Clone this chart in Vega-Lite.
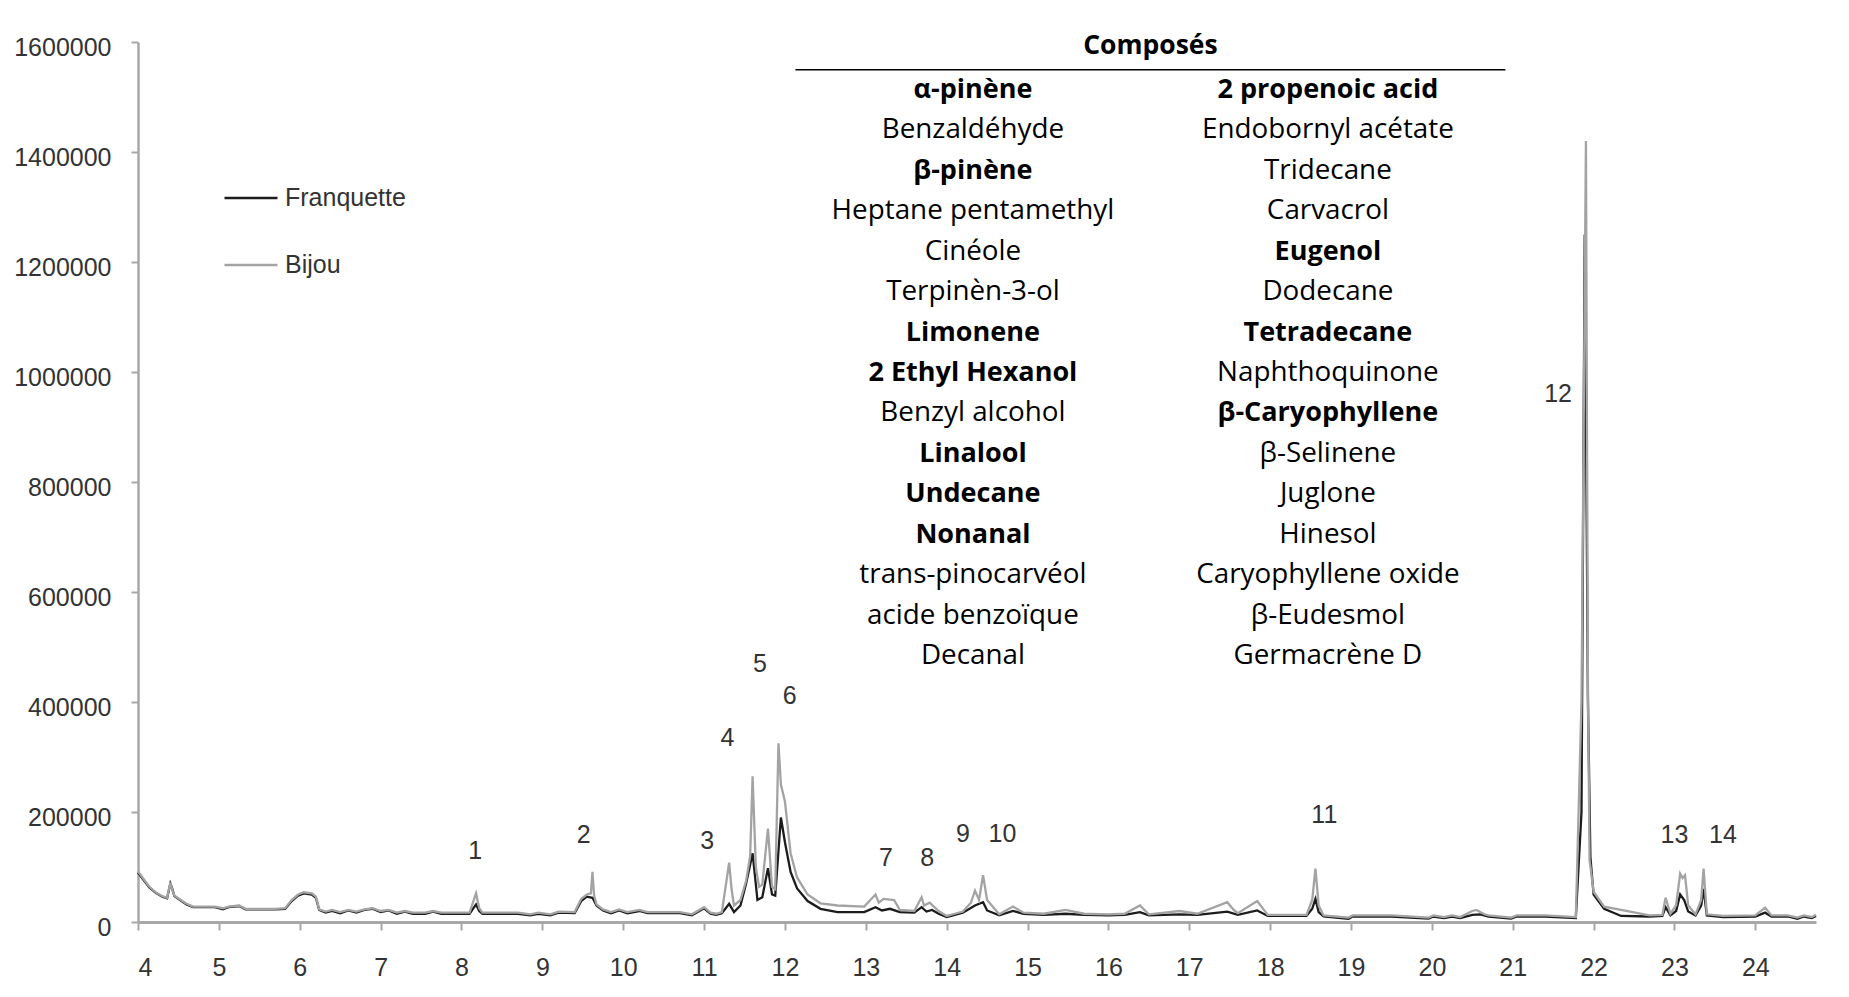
{
  "$schema": "https://vega.github.io/schema/vega-lite/v6.json",
  "autosize": {"type": "none"},
  "width": 1678,
  "height": 880,
  "padding": {"left": 138, "top": 42, "right": 33, "bottom": 75},
  "background": "white",
  "config": {"view": {"stroke": null}},
  "datasets": {
    "chrom": [
      {"t":4.00,"v":90000,"s":"Franquette"},{"t":4.06,"v":78000,"s":"Franquette"},{"t":4.14,"v":63000,"s":"Franquette"},{"t":4.22,"v":53000,"s":"Franquette"},{"t":4.30,"v":46000,"s":"Franquette"},{"t":4.36,"v":43000,"s":"Franquette"},{"t":4.40,"v":70000,"s":"Franquette"},{"t":4.42,"v":62000,"s":"Franquette"},{"t":4.45,"v":47000,"s":"Franquette"},{"t":4.52,"v":40000,"s":"Franquette"},{"t":4.60,"v":32000,"s":"Franquette"},{"t":4.68,"v":27000,"s":"Franquette"},{"t":4.80,"v":27000,"s":"Franquette"},{"t":4.95,"v":27000,"s":"Franquette"},{"t":5.05,"v":23000,"s":"Franquette"},{"t":5.12,"v":27000,"s":"Franquette"},{"t":5.25,"v":29000,"s":"Franquette"},{"t":5.33,"v":23000,"s":"Franquette"},{"t":5.50,"v":23000,"s":"Franquette"},{"t":5.70,"v":23000,"s":"Franquette"},{"t":5.82,"v":24000,"s":"Franquette"},{"t":5.90,"v":38000,"s":"Franquette"},{"t":5.98,"v":48000,"s":"Franquette"},{"t":6.05,"v":52000,"s":"Franquette"},{"t":6.15,"v":50000,"s":"Franquette"},{"t":6.20,"v":44000,"s":"Franquette"},{"t":6.24,"v":22000,"s":"Franquette"},{"t":6.32,"v":17000,"s":"Franquette"},{"t":6.40,"v":20000,"s":"Franquette"},{"t":6.50,"v":16000,"s":"Franquette"},{"t":6.60,"v":21000,"s":"Franquette"},{"t":6.70,"v":17000,"s":"Franquette"},{"t":6.80,"v":22000,"s":"Franquette"},{"t":6.90,"v":24000,"s":"Franquette"},{"t":7.00,"v":18000,"s":"Franquette"},{"t":7.10,"v":21000,"s":"Franquette"},{"t":7.20,"v":15000,"s":"Franquette"},{"t":7.30,"v":19000,"s":"Franquette"},{"t":7.40,"v":15000,"s":"Franquette"},{"t":7.55,"v":15000,"s":"Franquette"},{"t":7.65,"v":19000,"s":"Franquette"},{"t":7.75,"v":15000,"s":"Franquette"},{"t":7.90,"v":15000,"s":"Franquette"},{"t":8.10,"v":15000,"s":"Franquette"},{"t":8.18,"v":32000,"s":"Franquette"},{"t":8.22,"v":20000,"s":"Franquette"},{"t":8.26,"v":15000,"s":"Franquette"},{"t":8.50,"v":15000,"s":"Franquette"},{"t":8.70,"v":15000,"s":"Franquette"},{"t":8.85,"v":12000,"s":"Franquette"},{"t":8.95,"v":15000,"s":"Franquette"},{"t":9.10,"v":12000,"s":"Franquette"},{"t":9.20,"v":17000,"s":"Franquette"},{"t":9.40,"v":16000,"s":"Franquette"},{"t":9.48,"v":38000,"s":"Franquette"},{"t":9.55,"v":46000,"s":"Franquette"},{"t":9.62,"v":44000,"s":"Franquette"},{"t":9.67,"v":30000,"s":"Franquette"},{"t":9.75,"v":21000,"s":"Franquette"},{"t":9.85,"v":16000,"s":"Franquette"},{"t":9.95,"v":21000,"s":"Franquette"},{"t":10.05,"v":16000,"s":"Franquette"},{"t":10.20,"v":20000,"s":"Franquette"},{"t":10.30,"v":16000,"s":"Franquette"},{"t":10.50,"v":16000,"s":"Franquette"},{"t":10.70,"v":16000,"s":"Franquette"},{"t":10.85,"v":12000,"s":"Franquette"},{"t":11.00,"v":25000,"s":"Franquette"},{"t":11.08,"v":15000,"s":"Franquette"},{"t":11.15,"v":13000,"s":"Franquette"},{"t":11.22,"v":16000,"s":"Franquette"},{"t":11.31,"v":33000,"s":"Franquette"},{"t":11.37,"v":18000,"s":"Franquette"},{"t":11.45,"v":30000,"s":"Franquette"},{"t":11.52,"v":70000,"s":"Franquette"},{"t":11.60,"v":125000,"s":"Franquette"},{"t":11.66,"v":40000,"s":"Franquette"},{"t":11.72,"v":45000,"s":"Franquette"},{"t":11.79,"v":98000,"s":"Franquette"},{"t":11.84,"v":50000,"s":"Franquette"},{"t":11.88,"v":48000,"s":"Franquette"},{"t":11.95,"v":190000,"s":"Franquette"},{"t":12.00,"v":145000,"s":"Franquette"},{"t":12.07,"v":91000,"s":"Franquette"},{"t":12.15,"v":61000,"s":"Franquette"},{"t":12.28,"v":38000,"s":"Franquette"},{"t":12.44,"v":24000,"s":"Franquette"},{"t":12.65,"v":18000,"s":"Franquette"},{"t":12.98,"v":18000,"s":"Franquette"},{"t":13.12,"v":27000,"s":"Franquette"},{"t":13.20,"v":21000,"s":"Franquette"},{"t":13.30,"v":24000,"s":"Franquette"},{"t":13.42,"v":18000,"s":"Franquette"},{"t":13.60,"v":17000,"s":"Franquette"},{"t":13.69,"v":27000,"s":"Franquette"},{"t":13.75,"v":19000,"s":"Franquette"},{"t":13.82,"v":22000,"s":"Franquette"},{"t":13.90,"v":15000,"s":"Franquette"},{"t":14.00,"v":9000,"s":"Franquette"},{"t":14.10,"v":13000,"s":"Franquette"},{"t":14.20,"v":17000,"s":"Franquette"},{"t":14.35,"v":30000,"s":"Franquette"},{"t":14.45,"v":36000,"s":"Franquette"},{"t":14.50,"v":21000,"s":"Franquette"},{"t":14.65,"v":12000,"s":"Franquette"},{"t":14.82,"v":20000,"s":"Franquette"},{"t":14.95,"v":15000,"s":"Franquette"},{"t":15.20,"v":13000,"s":"Franquette"},{"t":15.47,"v":15000,"s":"Franquette"},{"t":15.70,"v":13000,"s":"Franquette"},{"t":16.00,"v":12000,"s":"Franquette"},{"t":16.20,"v":13000,"s":"Franquette"},{"t":16.39,"v":18000,"s":"Franquette"},{"t":16.50,"v":12000,"s":"Franquette"},{"t":16.88,"v":14000,"s":"Franquette"},{"t":17.10,"v":13000,"s":"Franquette"},{"t":17.47,"v":19000,"s":"Franquette"},{"t":17.60,"v":13000,"s":"Franquette"},{"t":17.84,"v":21000,"s":"Franquette"},{"t":17.97,"v":11000,"s":"Franquette"},{"t":18.20,"v":11000,"s":"Franquette"},{"t":18.45,"v":11000,"s":"Franquette"},{"t":18.52,"v":24000,"s":"Franquette"},{"t":18.56,"v":42000,"s":"Franquette"},{"t":18.60,"v":18000,"s":"Franquette"},{"t":18.66,"v":10000,"s":"Franquette"},{"t":18.97,"v":6000,"s":"Franquette"},{"t":19.02,"v":10000,"s":"Franquette"},{"t":19.50,"v":10000,"s":"Franquette"},{"t":19.96,"v":6000,"s":"Franquette"},{"t":20.02,"v":10000,"s":"Franquette"},{"t":20.15,"v":7000,"s":"Franquette"},{"t":20.25,"v":10000,"s":"Franquette"},{"t":20.35,"v":7000,"s":"Franquette"},{"t":20.50,"v":13000,"s":"Franquette"},{"t":20.60,"v":14000,"s":"Franquette"},{"t":20.70,"v":10000,"s":"Franquette"},{"t":20.98,"v":6000,"s":"Franquette"},{"t":21.05,"v":10000,"s":"Franquette"},{"t":21.40,"v":10000,"s":"Franquette"},{"t":21.78,"v":7000,"s":"Franquette"},{"t":21.85,"v":200000,"s":"Franquette"},{"t":21.89,"v":1250000,"s":"Franquette"},{"t":21.93,"v":400000,"s":"Franquette"},{"t":21.96,"v":118000,"s":"Franquette"},{"t":22.00,"v":50000,"s":"Franquette"},{"t":22.13,"v":24000,"s":"Franquette"},{"t":22.34,"v":11000,"s":"Franquette"},{"t":22.69,"v":10000,"s":"Franquette"},{"t":22.85,"v":11000,"s":"Franquette"},{"t":22.89,"v":27000,"s":"Franquette"},{"t":22.95,"v":12000,"s":"Franquette"},{"t":23.02,"v":20000,"s":"Franquette"},{"t":23.07,"v":50000,"s":"Franquette"},{"t":23.12,"v":40000,"s":"Franquette"},{"t":23.17,"v":19000,"s":"Franquette"},{"t":23.26,"v":12000,"s":"Franquette"},{"t":23.33,"v":30000,"s":"Franquette"},{"t":23.36,"v":60000,"s":"Franquette"},{"t":23.40,"v":12000,"s":"Franquette"},{"t":23.60,"v":9000,"s":"Franquette"},{"t":24.00,"v":10000,"s":"Franquette"},{"t":24.12,"v":17000,"s":"Franquette"},{"t":24.20,"v":10000,"s":"Franquette"},{"t":24.40,"v":10000,"s":"Franquette"},{"t":24.52,"v":6000,"s":"Franquette"},{"t":24.60,"v":10000,"s":"Franquette"},{"t":24.70,"v":7000,"s":"Franquette"},{"t":24.75,"v":11000,"s":"Franquette"},

      {"t":4.00,"v":92000,"s":"Bijou"},{"t":4.06,"v":80000,"s":"Bijou"},{"t":4.14,"v":64000,"s":"Bijou"},{"t":4.22,"v":54000,"s":"Bijou"},{"t":4.30,"v":47000,"s":"Bijou"},{"t":4.36,"v":44000,"s":"Bijou"},{"t":4.40,"v":72000,"s":"Bijou"},{"t":4.42,"v":60000,"s":"Bijou"},{"t":4.45,"v":48000,"s":"Bijou"},{"t":4.52,"v":41000,"s":"Bijou"},{"t":4.60,"v":33000,"s":"Bijou"},{"t":4.68,"v":28000,"s":"Bijou"},{"t":4.80,"v":28000,"s":"Bijou"},{"t":4.95,"v":28000,"s":"Bijou"},{"t":5.05,"v":25000,"s":"Bijou"},{"t":5.12,"v":28000,"s":"Bijou"},{"t":5.25,"v":30000,"s":"Bijou"},{"t":5.33,"v":24000,"s":"Bijou"},{"t":5.50,"v":24000,"s":"Bijou"},{"t":5.70,"v":24000,"s":"Bijou"},{"t":5.82,"v":25000,"s":"Bijou"},{"t":5.90,"v":40000,"s":"Bijou"},{"t":5.98,"v":50000,"s":"Bijou"},{"t":6.05,"v":54000,"s":"Bijou"},{"t":6.15,"v":52000,"s":"Bijou"},{"t":6.20,"v":46000,"s":"Bijou"},{"t":6.24,"v":23000,"s":"Bijou"},{"t":6.32,"v":19000,"s":"Bijou"},{"t":6.40,"v":22000,"s":"Bijou"},{"t":6.50,"v":18000,"s":"Bijou"},{"t":6.60,"v":22000,"s":"Bijou"},{"t":6.70,"v":19000,"s":"Bijou"},{"t":6.80,"v":23000,"s":"Bijou"},{"t":6.90,"v":25000,"s":"Bijou"},{"t":7.00,"v":20000,"s":"Bijou"},{"t":7.10,"v":22000,"s":"Bijou"},{"t":7.20,"v":17000,"s":"Bijou"},{"t":7.30,"v":20000,"s":"Bijou"},{"t":7.40,"v":17000,"s":"Bijou"},{"t":7.55,"v":17000,"s":"Bijou"},{"t":7.65,"v":20000,"s":"Bijou"},{"t":7.75,"v":17000,"s":"Bijou"},{"t":7.90,"v":17000,"s":"Bijou"},{"t":8.10,"v":17000,"s":"Bijou"},{"t":8.18,"v":52000,"s":"Bijou"},{"t":8.22,"v":25000,"s":"Bijou"},{"t":8.26,"v":17000,"s":"Bijou"},{"t":8.50,"v":17000,"s":"Bijou"},{"t":8.70,"v":17000,"s":"Bijou"},{"t":8.85,"v":14000,"s":"Bijou"},{"t":8.95,"v":17000,"s":"Bijou"},{"t":9.10,"v":14000,"s":"Bijou"},{"t":9.20,"v":19000,"s":"Bijou"},{"t":9.40,"v":18000,"s":"Bijou"},{"t":9.48,"v":42000,"s":"Bijou"},{"t":9.55,"v":50000,"s":"Bijou"},{"t":9.60,"v":52000,"s":"Bijou"},{"t":9.62,"v":91000,"s":"Bijou"},{"t":9.64,"v":48000,"s":"Bijou"},{"t":9.67,"v":32000,"s":"Bijou"},{"t":9.75,"v":23000,"s":"Bijou"},{"t":9.85,"v":18000,"s":"Bijou"},{"t":9.95,"v":23000,"s":"Bijou"},{"t":10.05,"v":18000,"s":"Bijou"},{"t":10.20,"v":22000,"s":"Bijou"},{"t":10.30,"v":18000,"s":"Bijou"},{"t":10.50,"v":18000,"s":"Bijou"},{"t":10.70,"v":18000,"s":"Bijou"},{"t":10.85,"v":14000,"s":"Bijou"},{"t":11.00,"v":27000,"s":"Bijou"},{"t":11.08,"v":17000,"s":"Bijou"},{"t":11.15,"v":15000,"s":"Bijou"},{"t":11.22,"v":18000,"s":"Bijou"},{"t":11.31,"v":108000,"s":"Bijou"},{"t":11.34,"v":60000,"s":"Bijou"},{"t":11.37,"v":30000,"s":"Bijou"},{"t":11.45,"v":40000,"s":"Bijou"},{"t":11.52,"v":75000,"s":"Bijou"},{"t":11.57,"v":120000,"s":"Bijou"},{"t":11.60,"v":265000,"s":"Bijou"},{"t":11.64,"v":100000,"s":"Bijou"},{"t":11.68,"v":64000,"s":"Bijou"},{"t":11.72,"v":68000,"s":"Bijou"},{"t":11.79,"v":170000,"s":"Bijou"},{"t":11.84,"v":64000,"s":"Bijou"},{"t":11.88,"v":60000,"s":"Bijou"},{"t":11.92,"v":325000,"s":"Bijou"},{"t":11.95,"v":250000,"s":"Bijou"},{"t":12.00,"v":219000,"s":"Bijou"},{"t":12.07,"v":125000,"s":"Bijou"},{"t":12.15,"v":81000,"s":"Bijou"},{"t":12.28,"v":50000,"s":"Bijou"},{"t":12.44,"v":34000,"s":"Bijou"},{"t":12.65,"v":30000,"s":"Bijou"},{"t":12.98,"v":28000,"s":"Bijou"},{"t":13.12,"v":50000,"s":"Bijou"},{"t":13.16,"v":35000,"s":"Bijou"},{"t":13.22,"v":42000,"s":"Bijou"},{"t":13.35,"v":40000,"s":"Bijou"},{"t":13.42,"v":22000,"s":"Bijou"},{"t":13.60,"v":20000,"s":"Bijou"},{"t":13.69,"v":45000,"s":"Bijou"},{"t":13.72,"v":30000,"s":"Bijou"},{"t":13.79,"v":35000,"s":"Bijou"},{"t":13.90,"v":20000,"s":"Bijou"},{"t":14.00,"v":11000,"s":"Bijou"},{"t":14.10,"v":15000,"s":"Bijou"},{"t":14.20,"v":19000,"s":"Bijou"},{"t":14.30,"v":35000,"s":"Bijou"},{"t":14.35,"v":57000,"s":"Bijou"},{"t":14.40,"v":40000,"s":"Bijou"},{"t":14.45,"v":85000,"s":"Bijou"},{"t":14.50,"v":40000,"s":"Bijou"},{"t":14.65,"v":14000,"s":"Bijou"},{"t":14.82,"v":28000,"s":"Bijou"},{"t":14.95,"v":17000,"s":"Bijou"},{"t":15.20,"v":15000,"s":"Bijou"},{"t":15.47,"v":22000,"s":"Bijou"},{"t":15.70,"v":15000,"s":"Bijou"},{"t":16.00,"v":14000,"s":"Bijou"},{"t":16.20,"v":15000,"s":"Bijou"},{"t":16.39,"v":30000,"s":"Bijou"},{"t":16.50,"v":14000,"s":"Bijou"},{"t":16.88,"v":20000,"s":"Bijou"},{"t":17.10,"v":15000,"s":"Bijou"},{"t":17.47,"v":36000,"s":"Bijou"},{"t":17.55,"v":22000,"s":"Bijou"},{"t":17.60,"v":16000,"s":"Bijou"},{"t":17.84,"v":38000,"s":"Bijou"},{"t":17.97,"v":13000,"s":"Bijou"},{"t":18.20,"v":13000,"s":"Bijou"},{"t":18.45,"v":13000,"s":"Bijou"},{"t":18.52,"v":40000,"s":"Bijou"},{"t":18.56,"v":97000,"s":"Bijou"},{"t":18.60,"v":30000,"s":"Bijou"},{"t":18.66,"v":12000,"s":"Bijou"},{"t":18.97,"v":8000,"s":"Bijou"},{"t":19.02,"v":12000,"s":"Bijou"},{"t":19.50,"v":12000,"s":"Bijou"},{"t":19.96,"v":8000,"s":"Bijou"},{"t":20.02,"v":12000,"s":"Bijou"},{"t":20.15,"v":9000,"s":"Bijou"},{"t":20.25,"v":12000,"s":"Bijou"},{"t":20.35,"v":9000,"s":"Bijou"},{"t":20.50,"v":20000,"s":"Bijou"},{"t":20.55,"v":22000,"s":"Bijou"},{"t":20.65,"v":14000,"s":"Bijou"},{"t":20.70,"v":12000,"s":"Bijou"},{"t":20.98,"v":8000,"s":"Bijou"},{"t":21.05,"v":12000,"s":"Bijou"},{"t":21.40,"v":12000,"s":"Bijou"},{"t":21.78,"v":9000,"s":"Bijou"},{"t":21.85,"v":400000,"s":"Bijou"},{"t":21.905,"v":1420000,"s":"Bijou"},{"t":21.93,"v":420000,"s":"Bijou"},{"t":21.95,"v":113000,"s":"Bijou"},{"t":22.00,"v":55000,"s":"Bijou"},{"t":22.13,"v":28000,"s":"Bijou"},{"t":22.34,"v":22000,"s":"Bijou"},{"t":22.69,"v":12000,"s":"Bijou"},{"t":22.85,"v":13000,"s":"Bijou"},{"t":22.89,"v":44000,"s":"Bijou"},{"t":22.95,"v":15000,"s":"Bijou"},{"t":23.02,"v":30000,"s":"Bijou"},{"t":23.07,"v":88000,"s":"Bijou"},{"t":23.10,"v":80000,"s":"Bijou"},{"t":23.13,"v":85000,"s":"Bijou"},{"t":23.17,"v":30000,"s":"Bijou"},{"t":23.26,"v":14000,"s":"Bijou"},{"t":23.33,"v":40000,"s":"Bijou"},{"t":23.36,"v":97000,"s":"Bijou"},{"t":23.40,"v":14000,"s":"Bijou"},{"t":23.60,"v":11000,"s":"Bijou"},{"t":24.00,"v":12000,"s":"Bijou"},{"t":24.12,"v":26000,"s":"Bijou"},{"t":24.20,"v":12000,"s":"Bijou"},{"t":24.40,"v":12000,"s":"Bijou"},{"t":24.52,"v":8000,"s":"Bijou"},{"t":24.60,"v":12000,"s":"Bijou"},{"t":24.70,"v":9000,"s":"Bijou"},{"t":24.75,"v":13000,"s":"Bijou"}
    ],
    "peaks": [
      {"label":"1","t":8.17,"v":130000},
      {"label":"2","t":9.51,"v":158000},
      {"label":"3","t":11.04,"v":147000},
      {"label":"4","t":11.29,"v":334000},
      {"label":"5","t":11.69,"v":469000},
      {"label":"6","t":12.06,"v":411000},
      {"label":"7","t":13.25,"v":117000},
      {"label":"8","t":13.76,"v":117000},
      {"label":"9","t":14.2,"v":160000},
      {"label":"10","t":14.69,"v":160000},
      {"label":"11","t":18.67,"v":194000},
      {"label":"12","t":21.56,"v":960000},
      {"label":"13","t":23.0,"v":158000},
      {"label":"14","t":23.6,"v":158000}
    ],
    "table": [
      {"col":0,"row":0,"name":"α-pinène","bold":true},
      {"col":0,"row":1,"name":"Benzaldéhyde","bold":false},
      {"col":0,"row":2,"name":"β-pinène","bold":true},
      {"col":0,"row":3,"name":"Heptane pentamethyl","bold":false},
      {"col":0,"row":4,"name":"Cinéole","bold":false},
      {"col":0,"row":5,"name":"Terpinèn-3-ol","bold":false},
      {"col":0,"row":6,"name":"Limonene","bold":true},
      {"col":0,"row":7,"name":"2 Ethyl Hexanol","bold":true},
      {"col":0,"row":8,"name":"Benzyl alcohol","bold":false},
      {"col":0,"row":9,"name":"Linalool","bold":true},
      {"col":0,"row":10,"name":"Undecane","bold":true},
      {"col":0,"row":11,"name":"Nonanal","bold":true},
      {"col":0,"row":12,"name":"trans-pinocarvéol","bold":false},
      {"col":0,"row":13,"name":"acide benzoïque","bold":false},
      {"col":0,"row":14,"name":"Decanal","bold":false},
      {"col":1,"row":0,"name":"2 propenoic acid","bold":true},
      {"col":1,"row":1,"name":"Endobornyl acétate","bold":false},
      {"col":1,"row":2,"name":"Tridecane","bold":false},
      {"col":1,"row":3,"name":"Carvacrol","bold":false},
      {"col":1,"row":4,"name":"Eugenol","bold":true},
      {"col":1,"row":5,"name":"Dodecane","bold":false},
      {"col":1,"row":6,"name":"Tetradecane","bold":true},
      {"col":1,"row":7,"name":"Naphthoquinone","bold":false},
      {"col":1,"row":8,"name":"β-Caryophyllene","bold":true},
      {"col":1,"row":9,"name":"β-Selinene","bold":false},
      {"col":1,"row":10,"name":"Juglone","bold":false},
      {"col":1,"row":11,"name":"Hinesol","bold":false},
      {"col":1,"row":12,"name":"Caryophyllene oxide","bold":false},
      {"col":1,"row":13,"name":"β-Eudesmol","bold":false},
      {"col":1,"row":14,"name":"Germacrène D","bold":false}
    ]
  },
  "layer": [
    {
      "layer": [
        {
          "data": {"name": "chrom"},
          "mark": {"type": "line", "strokeWidth": 2.3, "interpolate": "linear"},
          "encoding": {
            "x": {
              "field": "t", "type": "quantitative",
              "scale": {"domain": [4, 24.75], "nice": false, "zero": false},
              "axis": {
                "title": null, "values": [4,5,6,7,8,9,10,11,12,13,14,15,16,17,18,19,20,21,22,23,24],
                "format": "d", "grid": false,
                "domainColor": "#a8a8a8", "domainWidth": 3,
                "tickColor": "#a8a8a8", "tickWidth": 2, "tickSize": 8,
                "labelFont": "Liberation Sans", "labelFontSize": 25, "labelColor": "#333333",
                "labelPadding": 25
              }
            },
            "y": {
              "field": "v", "type": "quantitative",
              "scale": {"domain": [0, 1600000], "nice": false},
              "axis": {
                "title": null, "values": [0,200000,400000,600000,800000,1000000,1200000,1400000,1600000],
                "format": "d", "grid": false,
                "domainColor": "#a8a8a8", "domainWidth": 2.5,
                "tickColor": "#a8a8a8", "tickWidth": 2, "tickSize": 7,
                "labelFont": "Liberation Sans", "labelFontSize": 25, "labelColor": "#333333",
                "labelPadding": 20, "labelOffset": 5
              }
            },
            "color": {
              "field": "s", "type": "nominal",
              "scale": {"domain": ["Franquette", "Bijou"], "range": ["#1c1c1c", "#a3a3a3"]},
              "legend": {
                "title": null, "orient": "none", "legendX": 85, "legendY": 128,
                "symbolType": "stroke", "symbolSize": 2809, "symbolStrokeWidth": 2.5,
                "labelFont": "Liberation Sans", "labelFontSize": 25, "labelColor": "#333333",
                "labelOffset": 6, "rowPadding": 26, "padding": 0
              }
            },
            "order": {"field": "t", "type": "quantitative"}
          }
        },
        {
          "data": {"name": "peaks"},
          "mark": {"type": "text", "font": "Liberation Sans", "fontSize": 25, "color": "#333333", "align": "center", "baseline": "middle"},
          "encoding": {
            "x": {"field": "t", "type": "quantitative"},
            "y": {"field": "v", "type": "quantitative"},
            "text": {"field": "label"}
          }
        }
      ]
    },
    {
      "layer": [
        {
          "data": {"values": [{"c1": -0.5, "c2": 1.5, "row": -0.5}]},
          "mark": {"type": "rule", "color": "#000000", "strokeWidth": 1.5},
          "encoding": {
            "x": {"field": "c1", "type": "quantitative", "scale": {"domain": [-2.352, 2.375], "nice": false, "zero": false}, "axis": null},
            "x2": {"field": "c2"},
            "y": {"field": "row", "type": "quantitative", "scale": {"domain": [-1.185, 20.58], "nice": false, "zero": false, "reverse": true}, "axis": null}
          }
        },
        {
          "data": {"values": [{"col": 0.5, "row": -1, "name": "Composés"}]},
          "mark": {"type": "text", "font": "Open Sans", "fontSize": 26.5, "fontWeight": "bold", "color": "#000000", "align": "center", "baseline": "middle", "dy": -3},
          "encoding": {
            "x": {"field": "col", "type": "quantitative", "axis": null},
            "y": {"field": "row", "type": "quantitative", "axis": null},
            "text": {"field": "name"}
          }
        },
        {
          "data": {"name": "table"},
          "transform": [{"filter": "datum.bold"}],
          "mark": {"type": "text", "font": "Open Sans", "fontSize": 27, "fontWeight": "bold", "color": "#000000", "align": "center", "baseline": "middle"},
          "encoding": {
            "x": {"field": "col", "type": "quantitative", "axis": null},
            "y": {"field": "row", "type": "quantitative", "axis": null},
            "text": {"field": "name"}
          }
        },
        {
          "data": {"name": "table"},
          "transform": [{"filter": "!datum.bold"}],
          "mark": {"type": "text", "font": "Open Sans", "fontSize": 27.8, "color": "#000000", "align": "center", "baseline": "middle"},
          "encoding": {
            "x": {"field": "col", "type": "quantitative", "axis": null},
            "y": {"field": "row", "type": "quantitative", "axis": null},
            "text": {"field": "name"}
          }
        }
      ]
    }
  ],
  "resolve": {"scale": {"x": "independent", "y": "independent"}}
}
